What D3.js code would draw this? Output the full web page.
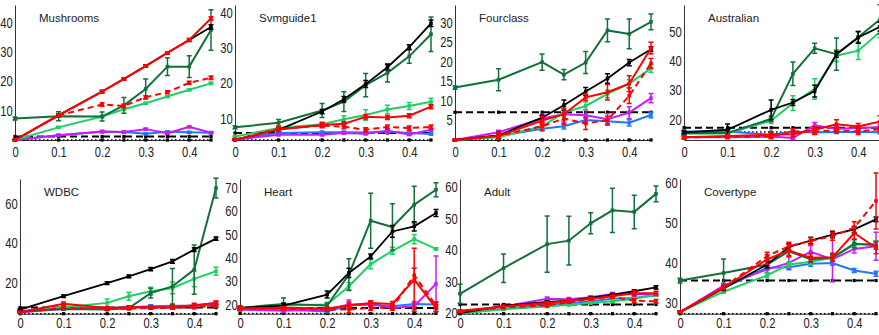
<!DOCTYPE html>
<html>
<head>
<meta charset="utf-8">
<script src="https://cdn.jsdelivr.net/npm/d3@7"></script>
<style>
  body { margin: 0; background: #fff; }
  svg { display: block; font-family: "Liberation Sans", Arial, sans-serif; }
</style>
</head>
<body>
<svg id="chart" width="879" height="335"></svg>
<script>
// noise levels on the x axis
const xVals = [0, 0.1, 0.2, 0.25, 0.3, 0.35, 0.4, 0.45]
const xTicks = [0, 0.1, 0.2, 0.3, 0.4]

const datasets = ['Mushrooms', 'Svmguide1', 'Fourclass', 'Australian', 'WDBC', 'Heart', 'Adult', 'Covertype']
const yDomains = [[0, 46], [3.9, 42.3], [0, 34.5], [13.1, 59.2], [4.2, 72.7], [16.1, 73.9], [19.9, 62.5], [27.3, 61]]
const yTicks = [
  [10, 20, 30, 40],
  [10, 20, 30, 40],
  [5, 10, 15, 20, 25, 30],
  [20, 30, 40, 50],
  [20, 40, 60],
  [20, 30, 40, 50, 60, 70],
  [20, 30, 40, 50, 60],
  [30, 40, 50, 60]
]

// one row per dataset, one value per noise level
const seriesBlack = [
  [0, 8.4, 16.5, 20.8, 25.2, 29.7, 34.1, 38.5],
  [4.0, 6.8, 12.0, 15.5, 19.8, 24.6, 30.3, 37.1],
  [0, 1.2, 5.7, 8.9, 12.4, 15.7, 19.8, 23.2],
  [15.7, 16.6, 23.4, 25.9, 29.8, 42.4, 48.1, 51.8],
  [6.3, 13.1, 19.8, 23.2, 26.9, 30.8, 36.8, 42.4],
  [18.6, 19.6, 24.3, 33.6, 40.7, 51.4, 53.6, 59.3],
  [20.1, 22.4, 23.6, 24.0, 24.9, 25.9, 27.0, 28.2],
  [27.7, 33.6, 39.6, 44.0, 45.6, 47.1, 48.4, 50.9]
]
const seriesDarkGreen = [
  [7.3, 8.1, 8.0, 11.8, 17.4, 25.0, 25.0, 37.5],
  [7.5, 8.8, 12.3, 14.8, 19.5, 23.0, 27.7, 34.0],
  [13.4, 15.4, 19.9, 16.7, 19.8, 28.0, 27.1, 30.2],
  [15.5, 15.5, 20.3, 35.7, 44.4, 42.4, 48.2, 54.3],
  [5.4, 6.6, 6.3, 7.1, 14.7, 18.1, 26.6, 68.1],
  [18.6, 20.3, 19.6, 32.9, 56.0, 53.3, 62.9, 69.3],
  [26.2, 34.3, 41.9, 43.0, 48.5, 52.6, 52.1, 57.8],
  [35.6, 37.5, 39.6, 42.9, 40.9, 41.3, 44.8, 44.4]
]
const seriesLightGreen = [
  [0, 4.3, 8.0, 10.5, 12.5, 14.8, 17.1, 19.3],
  [4.9, 7.3, 8.4, 9.8, 11.0, 12.6, 13.6, 14.8],
  [0, 0.7, 3.5, 7.0, 8.7, 11.8, 14.4, 18.3],
  [15.2, 15.3, 19.7, 25.7, 30.5, 41.9, 43.6, 50.0],
  [5.4, 7.5, 9.7, 13.1, 15.6, 17.3, 21.9, 25.8],
  [18.6, 19.6, 20.0, 27.9, 37.4, 43.1, 48.1, 43.9],
  [20.0, 21.3, 22.2, 22.7, 23.3, 23.8, 24.6, 25.9],
  [27.7, 32.8, 36.9, 39.6, 40.3, 41.3, 44.6, 44.8]
]
const seriesRed = [
  [0, 8.4, 16.5, 20.8, 25.2, 29.7, 34.1, 41.4],
  [4.0, 6.9, 8.2, 8.5, 10.5, 10.3, 10.8, 13.4],
  [0, 1.0, 5.0, 6.6, 10.9, 12.2, 14.4, 23.5],
  [14.0, 14.5, 14.9, 15.1, 16.6, 18.5, 17.7, 19.4],
  [4.9, 9.2, 7.1, 7.5, 7.5, 7.6, 8.5, 9.7],
  [18.3, 18.6, 18.3, 19.6, 20.7, 20.3, 30.7, 18.6],
  [20.8, 22.2, 23.3, 24.0, 24.6, 25.4, 26.4, 26.4],
  [27.7, 33.8, 40.9, 43.1, 41.3, 41.4, 47.5, 43.8]
]
const seriesRedDashed = [
  [0, 8.4, 12.1, 11.6, 14.6, 16.3, 19.5, 21.2],
  [4.0, 7.1, 8.0, 7.7, 6.8, 7.6, 7.3, 7.6],
  [0, 1.1, 3.5, 5.5, 4.2, 5.1, 11.3, 19.6],
  [14.0, 14.2, 14.3, 16.0, 16.0, 16.4, 16.0, 16.8],
  [4.9, 7.1, 6.6, 6.8, 7.1, 7.1, 7.5, 8.3],
  [18.3, 18.3, 17.9, 17.9, 18.6, 18.6, 32.6, 19.6],
  [20.6, 21.9, 22.5, 23.6, 24.6, 25.2, 24.0, 23.8],
  [27.7, 33.9, 41.7, 44.2, 45.5, 46.7, 48.8, 55.5]
]
const seriesBlue = [
  [0, 1.6, 2.8, 2.7, 2.1, 2.8, 2.6, 2.5],
  [4.0, 5.9, 6.1, 6.1, 6.0, 6.3, 5.9, 5.6],
  [0, 1.0, 2.9, 3.5, 5.1, 4.8, 4.4, 6.4],
  [16.0, 16.0, 14.9, 16.0, 15.7, 15.8, 15.8, 15.7],
  [4.9, 7.1, 7.1, 7.5, 8.0, 8.2, 8.3, 8.8],
  [17.9, 17.9, 17.1, 19.6, 20.0, 19.3, 20.3, 20.0],
  [20.0, 21.5, 22.7, 23.3, 23.8, 24.6, 24.9, 25.7],
  [27.7, 33.8, 38.8, 38.9, 39.8, 40.0, 38.1, 37.3]
]
const seriesMagenta = [
  [0, 1.6, 2.9, 2.7, 3.7, 2.3, 4.5, 2.5],
  [4.0, 5.4, 5.4, 5.9, 5.7, 6.5, 5.5, 6.8],
  [0, 2.0, 5.5, 6.6, 6.3, 5.3, 7.0, 10.7],
  [14.0, 14.0, 14.3, 13.75, 18.1, 16.9, 17.2, 17.5],
  [4.9, 6.6, 6.6, 7.5, 7.5, 7.6, 8.2, 9.7],
  [17.9, 17.4, 17.9, 20.0, 20.3, 18.6, 19.3, 28.9],
  [20.4, 22.2, 24.6, 24.5, 25.1, 26.1, 26.1, 25.9],
  [27.7, 34.3, 38.4, 40.0, 42.8, 40.9, 43.5, 44.2]
]
// constant reference levels per dataset
const baselineDashed = [1.2, 5.9, 7.1, 17.3, 7.3, 18.5, 22.8, 35.6]
const baselineDotted = [0, 3.9, 0, 15.8, 4.2, 16.2, 19.9, 27.3]

// error bar half widths
const errDarkGreen = [
  [0.5, 1.5, 1.5, 2.7, 3.4, 3.0, 3.7, 6.9],
  [0.4, 0.9, 2.0, 2.8, 3.3, 2.6, 2.0, 4.9],
  [0.4, 2.8, 2.1, 1.3, 2.8, 2.9, 3.8, 2.0],
  [0.6, 0.6, 1.0, 4.0, 1.7, 5.5, 2.0, 5.0],
  [0.5, 0.5, 0.5, 0.8, 2.5, 9.1, 12.5, 5.0],
  [0.8, 2.5, 1.0, 6.8, 11.8, 10.0, 7.9, 3.0],
  [3.0, 4.5, 8.9, 7.7, 3.3, 7.0, 5.3, 2.5],
  [0.6, 3.5, 1.0, 1.0, 0.8, 0.8, 1.0, 1.0]
]
const errBlack = [
  [0.3, 0.4, 0.4, 0.4, 0.4, 0.4, 0.5, 0.8],
  [0.2, 0.5, 0.6, 0.8, 1.0, 0.8, 0.7, 0.9],
  [0.1, 0.8, 0.6, 1.3, 1.0, 1.2, 0.8, 0.6],
  [0.5, 2.0, 3.4, 1.0, 2.0, 1.0, 2.0, 1.5],
  [0.4, 0.6, 0.7, 0.7, 0.8, 0.9, 1.0, 0.8],
  [0.6, 1.0, 1.5, 2.0, 1.0, 2.5, 2.0, 1.5],
  [0.2, 0.4, 0.4, 0.4, 0.4, 0.4, 0.5, 0.5],
  [0.3, 0.5, 0.8, 0.8, 0.8, 0.8, 0.8, 0.6]
]
const errLightGreen = [
  [0.1, 0.3, 0.3, 0.3, 0.3, 0.3, 0.3, 0.4],
  [0.2, 0.5, 0.6, 1.0, 1.5, 1.2, 1.0, 1.0],
  [0.1, 0.5, 0.8, 1.0, 1.0, 1.0, 1.0, 1.0],
  [0.5, 0.5, 1.0, 2.5, 3.5, 2.0, 3.0, 2.0],
  [0.3, 0.5, 2.0, 2.0, 2.0, 3.0, 4.0, 2.0],
  [0.5, 1.0, 1.0, 1.5, 2.0, 1.5, 2.0, 0.5],
  [0.2, 0.3, 0.3, 0.3, 0.3, 0.4, 0.4, 0.4],
  [0.3, 0.4, 0.6, 0.6, 0.6, 0.6, 0.6, 0.6]
]
const errRed = [
  [0.1, 0.5, 0.4, 0.4, 0.4, 0.4, 0.4, 0.6],
  [0.2, 0.5, 0.6, 0.6, 0.6, 0.6, 0.6, 0.6],
  [0.1, 0.8, 1.0, 1.5, 0.8, 2.0, 2.0, 1.5],
  [0.5, 0.5, 1.0, 1.0, 1.0, 1.5, 1.0, 2.0],
  [0.3, 1.0, 0.8, 0.8, 0.8, 0.8, 1.0, 1.0],
  [0.6, 0.6, 0.6, 1.5, 1.0, 1.0, 13.5, 1.5],
  [0.3, 0.4, 0.4, 0.4, 0.4, 0.4, 0.8, 0.6],
  [0.3, 0.5, 1.2, 1.5, 1.0, 1.0, 1.5, 1.5]
]
const errRedDashed = [
  [0.1, 0.5, 0.6, 0.6, 0.5, 0.5, 0.5, 0.6],
  [0.2, 0.5, 0.6, 0.6, 0.6, 0.6, 0.6, 0.6],
  [0.1, 0.6, 1.0, 1.5, 1.5, 1.0, 2.0, 1.2],
  [0.5, 0.5, 0.8, 1.0, 1.0, 1.0, 1.0, 1.0],
  [0.3, 0.6, 0.6, 0.6, 0.6, 0.6, 0.8, 0.8],
  [0.6, 0.6, 0.6, 1.5, 1.0, 1.0, 3.0, 1.5],
  [0.3, 0.4, 0.4, 0.4, 0.4, 0.4, 0.6, 0.6],
  [0.3, 0.5, 1.0, 1.0, 0.8, 1.0, 1.5, 7.0]
]
const errBlue = [
  [0.1, 0.3, 0.3, 0.3, 0.3, 0.3, 0.3, 0.3],
  [0.2, 0.3, 0.3, 0.3, 0.3, 0.3, 0.3, 0.3],
  [0.1, 0.4, 0.6, 0.7, 0.7, 0.7, 0.8, 0.7],
  [0.5, 0.5, 0.5, 0.5, 0.5, 0.5, 0.5, 0.5],
  [0.3, 0.5, 0.5, 0.6, 0.8, 0.8, 0.8, 0.8],
  [0.5, 0.5, 0.5, 1.0, 1.0, 1.0, 1.0, 1.0],
  [0.2, 0.3, 0.3, 0.3, 0.3, 0.3, 0.3, 0.3],
  [0.3, 0.5, 0.5, 0.6, 0.6, 0.6, 0.5, 0.6]
]
const errMagenta = [
  [0.1, 0.3, 0.3, 0.3, 0.3, 0.3, 0.3, 0.3],
  [0.2, 0.3, 0.3, 0.3, 0.3, 0.6, 0.3, 0.3],
  [0.1, 0.5, 1.0, 2.0, 1.5, 1.5, 1.5, 1.2],
  [0.5, 0.5, 0.5, 0.5, 1.0, 0.8, 0.8, 1.0],
  [0.3, 0.6, 0.6, 0.6, 0.6, 0.6, 0.6, 0.8],
  [0.5, 0.8, 0.8, 2.0, 1.0, 1.0, 1.5, 12.0],
  [0.2, 0.5, 0.6, 0.5, 0.5, 0.5, 0.5, 0.5],
  [0.3, 0.6, 0.8, 1.5, 1.5, 5.6, 1.0, 3.5]
]

// drawing order: back to front
const seriesList = [
  { values: seriesBlue, err: errBlue, color: '#1f78ff', dash: null, width: 2 },
  { values: seriesMagenta, err: errMagenta, color: '#c61cff', dash: null, width: 2 },
  { values: seriesLightGreen, err: errLightGreen, color: '#1fcf63', dash: null, width: 2 },
  { values: seriesDarkGreen, err: errDarkGreen, color: '#12703a', dash: null, width: 2 },
  { values: seriesBlack, err: errBlack, color: '#000', dash: null, width: 1.8 },
  { values: seriesRedDashed, err: errRedDashed, color: '#ff0000', dash: '6,4', width: 2 },
  { values: seriesRed, err: errRed, color: '#ff0000', dash: null, width: 2 }
]

// layout of the 2x4 grid
const plotW = 196
const panelLeft = [15, 235, 455, 684, 20, 240, 460, 680]
const rowTop = [5, 179]
const rowBottom = [140, 313.7]
const xLabelPad = [7, 4]

const svg = d3.select('#chart')

datasets.forEach((name, p) => {
  const row = p < 4 ? 0 : 1
  const left = panelLeft[p]
  const x = d3.scaleLinear().domain([0, 0.45]).range([left, left + plotW])
  const y = d3.scaleLinear().domain(yDomains[p]).range([rowBottom[row], rowTop[row]])
  const g = svg.append('g')

  // axes
  const yAxis = g.append('g')
    .attr('transform', `translate(${left},0)`)
    .call(d3.axisLeft(y).tickValues(yTicks[p]).tickSize(0).tickPadding(3).tickFormat(d3.format('~g')))
  const xAxis = g.append('g')
    .attr('transform', `translate(0,${rowBottom[row]})`)
    .call(d3.axisBottom(x).tickValues(xTicks).tickSize(0).tickPadding(xLabelPad[row]).tickFormat(d3.format('~g')))
  g.selectAll('.tick text')
    .attr('font-size', 14)
    .attr('fill', '#222')
    .attr('font-family', '"Liberation Sans", Arial, sans-serif')
    .attr('transform', 'scale(0.8,1)')
  g.selectAll('.domain').attr('stroke', '#333').attr('stroke-width', 1)

  const line = d3.line().x((d, i) => x(xVals[i])).y(d => y(d))

  // dotted and dashed reference levels
  const refs = [
    { v: baselineDotted[p], dash: '1.5,2.5', width: 1.5 },
    { v: baselineDashed[p], dash: '7,4', width: 2 }
  ]
  refs.forEach(r => {
    const vals = xVals.map(() => r.v)
    g.append('path')
      .attr('d', line(vals))
      .attr('fill', 'none')
      .attr('stroke', '#000')
      .attr('stroke-width', r.width)
      .attr('stroke-dasharray', r.dash)
    g.selectAll(null).data(xVals).enter().append('rect')
      .attr('x', d => x(d) - 1.6)
      .attr('y', y(r.v) - 1.6)
      .attr('width', 3.2)
      .attr('height', 3.2)
      .attr('fill', '#000')
  })

  seriesList.forEach(s => {
    const vals = s.values[p]
    const errs = s.err[p]
    const sg = g.append('g')
    sg.append('path')
      .attr('d', line(vals))
      .attr('fill', 'none')
      .attr('stroke', s.color)
      .attr('stroke-width', s.width)
      .attr('stroke-dasharray', s.dash)
    const eb = sg.selectAll('g.eb').data(vals).enter().append('g')
      .attr('transform', (d, i) => `translate(${x(xVals[i])},0)`)
    eb.append('path')
      .attr('d', (d, i) => {
        const y0 = y(d - errs[i])
        const y1 = y(d + errs[i])
        return `M0,${y0}V${y1}M-2.5,${y0}H2.5M-2.5,${y1}H2.5`
      })
      .attr('stroke', s.color)
      .attr('stroke-width', 1.5)
      .attr('fill', 'none')
    eb.append('rect')
      .attr('x', -1.8)
      .attr('y', d => y(d) - 1.8)
      .attr('width', 3.6)
      .attr('height', 3.6)
      .attr('fill', s.color)
  })

  // dataset title
  g.append('text')
    .attr('x', left + 24)
    .attr('y', rowTop[row] + 17)
    .attr('font-size', 11.5)
    .attr('fill', '#222')
    .text(name)
})
</script>
</body>
</html>
